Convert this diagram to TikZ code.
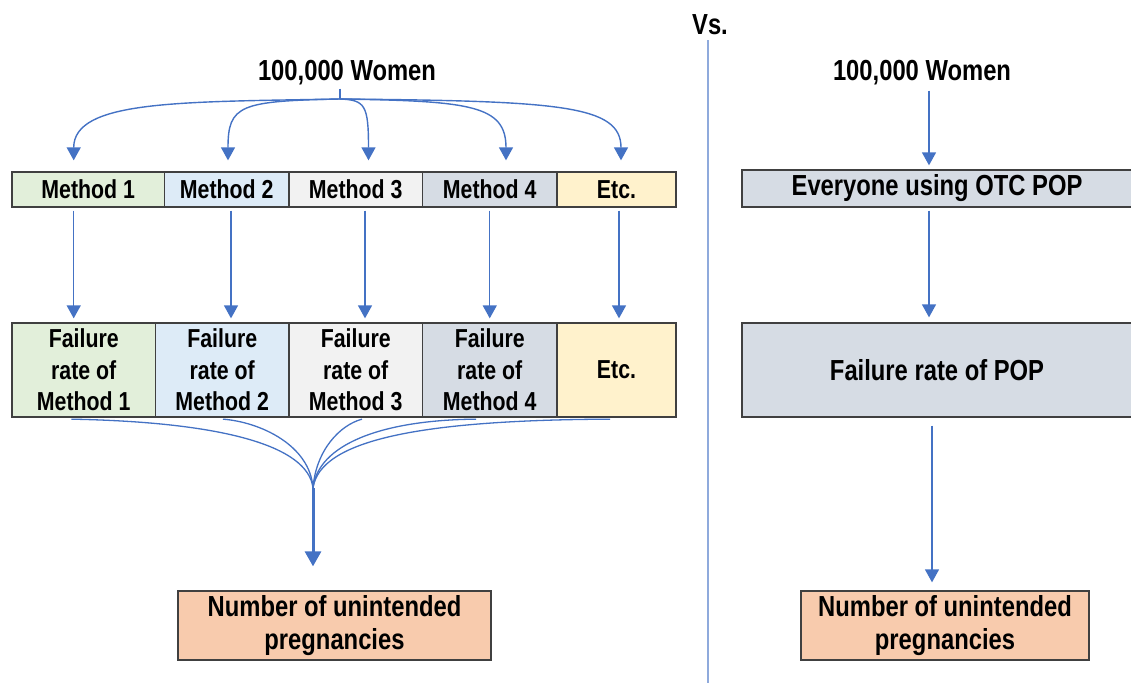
\documentclass[tikz,border=0pt]{standalone}
\usepackage{fontspec}
\setmainfont{Liberation Sans}[FakeStretch=0.82]
\usetikzlibrary{arrows.meta}
\definecolor{arr}{HTML}{4472C4}
\definecolor{sepc}{HTML}{8FAADC}
\definecolor{cg}{HTML}{E2EFDA}
\definecolor{cb}{HTML}{DDEBF7}
\definecolor{cw}{HTML}{F2F2F2}
\definecolor{cs}{HTML}{D6DCE4}
\definecolor{cy}{HTML}{FFF2CC}
\definecolor{co}{HTML}{F8CBAD}
\definecolor{bd}{HTML}{404040}
\begin{document}
\begin{tikzpicture}[x=1pt,y=-1pt,
 cell/.style={draw=bd,line width=1.3pt,inner sep=0pt,align=center,font=\bfseries\fontsize{26}{31.5}\selectfont},
 ttl/.style={font=\bfseries\fontsize{29}{32}\selectfont,inner sep=0pt},
 big/.style={draw=bd,line width=1.3pt,inner sep=0pt,align=center,font=\bfseries\fontsize{29}{33}\selectfont},
 conn/.style={draw=arr,line width=1.4pt,-{Triangle[width=14pt,length=13pt]}},
 link/.style={draw=arr,line width=1.3pt}]
\useasboundingbox (0,0) rectangle (1131,683);

% titles
\node[ttl] (w1) at (347,73) {100,000 Women};
\node[ttl] (w2) at (922,73) {100,000 Women};
\node[ttl] (vs) at (710,25) {Vs.};

% method row
\node[cell,fill=cg,minimum width=152.5pt,minimum height=35pt] (m1) at (88.25,189.5) {Method 1};
\node[cell,fill=cb,minimum width=124.5pt,minimum height=35pt] (m2) at (226.75,189.5) {Method 2};
\node[cell,fill=cw,minimum width=133.5pt,minimum height=35pt] (m3) at (355.75,189.5) {Method 3};
\node[cell,fill=cs,minimum width=134.5pt,minimum height=35pt] (m4) at (489.75,189.5) {Method 4};
\node[cell,fill=cy,minimum width=119pt,minimum height=35pt] (m5) at (616.5,189.5) {Etc.};

% failure row
\node[cell,fill=cg,minimum width=143.5pt,minimum height=94pt] (f1) at (83.75,370) {Failure\\rate of\\Method 1};
\node[cell,fill=cb,minimum width=133.5pt,minimum height=94pt] (f2) at (222.25,370) {Failure\\rate of\\Method 2};
\node[cell,fill=cw,minimum width=133.5pt,minimum height=94pt] (f3) at (355.75,370) {Failure\\rate of\\Method 3};
\node[cell,fill=cs,minimum width=134.5pt,minimum height=94pt] (f4) at (489.75,370) {Failure\\rate of\\Method 4};
\node[cell,fill=cy,minimum width=119pt,minimum height=94pt] (f5) at (616.5,370) {Etc.};

\node[big,fill=co,minimum width=313pt,minimum height=69pt] (n1) at (334.5,625.5) {Number of unintended\\pregnancies};

% right side
\node[big,fill=cs,minimum width=390pt,minimum height=37pt] (e) at (937,188.5) {Everyone using OTC POP};
\node[big,fill=cs,minimum width=390pt,minimum height=94pt] (fp) at (937,370) {Failure rate of POP};
\node[big,fill=co,minimum width=288pt,minimum height=69pt] (n2) at (945,625.5) {Number of unintended\\pregnancies};

% separator
\coordinate (vsb) at (708,683);
\coordinate (vst) at (708,40);
\draw[sepc,line width=2pt] (vst) -- (vsb);

% top tree
\coordinate (root) at (340,99);
\draw[link,shorten <=3pt] (root |- w1.south) -- (root);
\draw[conn,shorten >=11pt] (root) .. controls (180,102) and (73.7,100) .. ([xshift=-14.55pt]m1.north);
\draw[conn,shorten >=11pt] (root) .. controls (240,101) and (228,105) .. ([xshift=1.25pt]m2.north);
\draw[conn,shorten >=11pt] (root) .. controls (365,100) and (368.5,105) .. ([xshift=12.75pt]m3.north);
\draw[conn,shorten >=11pt] (root) .. controls (470,101) and (506,105) .. ([xshift=16.25pt]m4.north);
\draw[conn,shorten >=11pt] (root) .. controls (560,101) and (621,105) .. ([xshift=4.5pt]m5.north);

% method -> failure
\coordinate (a1) at ([xshift=-14.55pt]m1.south);
\coordinate (a2) at ([xshift=4.25pt]m2.south);
\coordinate (a3) at ([xshift=9.25pt]m3.south);
\coordinate (a4) at (m4.south);
\coordinate (a5) at ([xshift=2.5pt]m5.south);
\draw[conn,shorten <=3pt,shorten >=4pt] (a1) -- (a1 |- f1.north);
\draw[conn,shorten <=3pt,shorten >=4pt] (a2) -- (a2 |- f2.north);
\draw[conn,shorten <=3pt,shorten >=4pt] (a3) -- (a3 |- f3.north);
\draw[conn,shorten <=3pt,shorten >=4pt] (a4) -- (a4 |- f4.north);
\draw[conn,shorten <=3pt,shorten >=4pt] (a5) -- (a5 |- f5.north);

% failure -> merge
\coordinate (mg) at (313,488);
\coordinate (b1) at ([xshift=-12.35pt,yshift=-1.5pt]f1.south);
\coordinate (b2) at ([xshift=0.75pt,yshift=-1.5pt]f2.south);
\coordinate (b3) at ([xshift=6.25pt,yshift=-1.5pt]f3.south);
\coordinate (b4) at ([xshift=-13.75pt,yshift=-1.5pt]f4.south);
\coordinate (b5) at ([xshift=-6.5pt,yshift=-1.5pt]f5.south);
\draw[link] (b1) .. controls (220,422) and (308,445) .. (mg);
\draw[link] (b2) .. controls (260,422) and (310,445) .. (mg);
\draw[link] (b3) .. controls (340,425) and (316,450) .. (mg);
\draw[link] (b4) .. controls (380,420) and (318,445) .. (mg);
\draw[link] (b5) .. controls (420,420) and (320,440) .. (mg);
\draw[draw=arr,line width=3pt,-{Triangle[width=16pt,length=15pt]},shorten >=24pt] (mg) -- (mg |- n1.north);

% right arrows
\coordinate (r1) at ([xshift=7pt]w2.south);
\coordinate (r2) at ([xshift=-8pt]e.south);
\coordinate (r3) at ([xshift=-5pt]fp.south);
\draw[conn,shorten <=5pt,shorten >=4pt] (r1) -- (r1 |- e.north);
\draw[conn,shorten <=3pt,shorten >=5pt] (r2) -- (r2 |- fp.north);
\draw[conn,shorten <=8pt,shorten >=8pt] (r3) -- (r3 |- n2.north);
\end{tikzpicture}
\end{document}
